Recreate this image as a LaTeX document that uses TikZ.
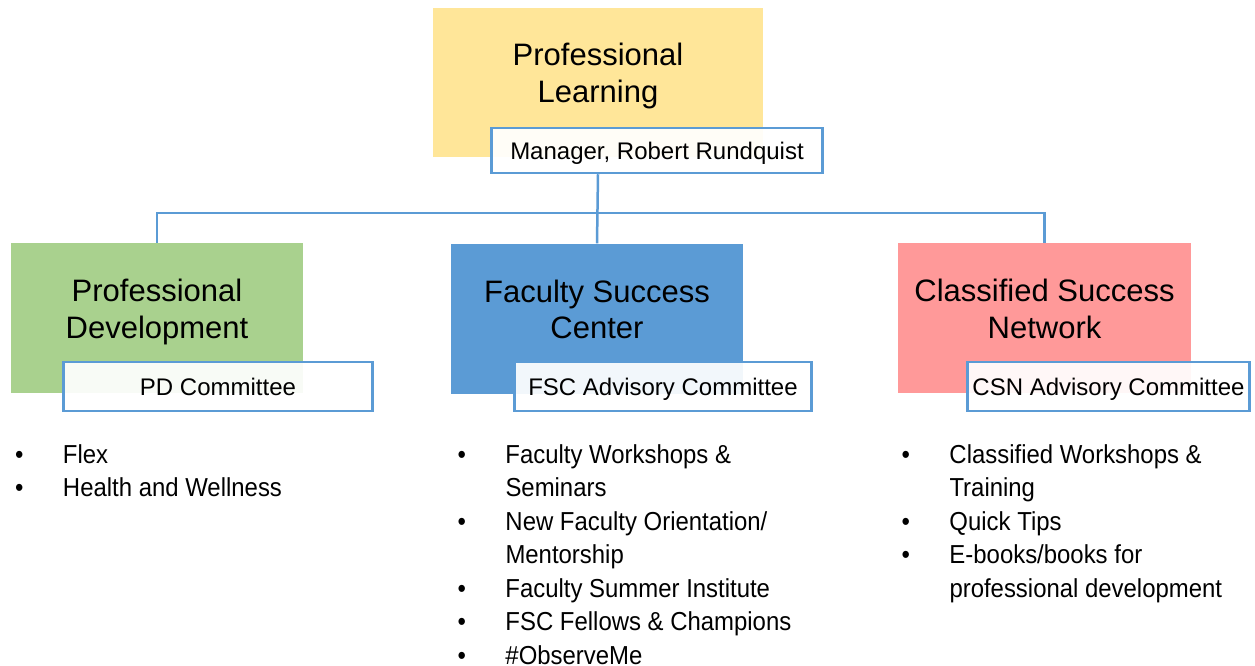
\documentclass[tikz,border=0pt]{standalone}
\usepackage{fontspec}
\setmainfont{Liberation Sans}
\newfontfamily\narrowfont[FakeStretch=0.92]{Liberation Sans}
\definecolor{lineblue}{HTML}{5B9BD5}
\definecolor{plyellow}{HTML}{FFE699}
\definecolor{pdgreen}{HTML}{A9D18E}
\definecolor{fscblue}{HTML}{5B9BD5}
\definecolor{csnpink}{HTML}{FF9999}
\newcommand\boxtitle[2]{\begin{tabular}[t]{@{}c@{}}#1\\#2\end{tabular}}
\begin{document}
\begin{tikzpicture}[x=1pt,y=-1pt,
  bigbox/.style={rectangle, inner sep=0pt, minimum width=292pt, minimum height=150pt,
    text height=0pt, text depth=33pt,
    font=\fontsize{31}{36.5}\selectfont},
  subbox/.style={rectangle, draw=lineblue, line width=2.5pt, fill=white, fill opacity=0.92,
    text opacity=1, minimum height=49pt, inner sep=0pt, text height=17.2pt, text depth=0pt,
    font=\fontsize{24}{28}\selectfont},
  conn/.style={draw=lineblue, line width=2.5pt},
  itemlist/.style={anchor=base west, inner sep=0pt, font=\narrowfont\fontsize{26}{33.5}\selectfont}]
\useasboundingbox (0,0) rectangle (1255,666);
\fill[white] (0,0) rectangle (1255,666);

% boxes
\node[bigbox, fill=plyellow, minimum width=330pt, minimum height=149pt] (pl) at (598,82.5) {\boxtitle{Professional}{Learning}};
\node[bigbox, fill=pdgreen] (pd) at (157,318) {\boxtitle{Professional}{Development}};
\node[bigbox, fill=fscblue] (fsc) at (597,318.5) {\boxtitle{Faculty Success}{Center}};
\node[bigbox, fill=csnpink, minimum width=293pt] (csn) at (1044.5,318) {\boxtitle{Classified Success}{Network}};

% connectors
\coordinate (bus) at (598,213);
\draw[conn] (pd.north) -- (pd.north |- bus) -- (csn.north |- bus) -- (csn.north);

% sub boxes
\node[subbox, minimum width=331pt, minimum height=45pt] (mgr) at (657,150.5) {Manager, Robert Rundquist};
\node[subbox, minimum width=309pt] (pdc) at (218,386.5) {PD Committee};
\node[subbox, minimum width=297pt] (fscc) at (663,386.5) {FSC Advisory Committee};
\node[subbox, minimum width=282pt] (csnc) at (1108.5,386.5) {CSN Advisory Committee};

\draw[conn] (pl.south |- mgr.south) -- (fsc.north);

% lists
\node[itemlist] (l1) at (14.8,463) {\begin{tabular}[t]{@{}p{48pt}@{}l@{}}
\textbullet & Flex\\
\textbullet & Health and Wellness
\end{tabular}};
\node[itemlist] (l2) at (457.3,463) {\begin{tabular}[t]{@{}p{48pt}@{}l@{}}
\textbullet & Faculty Workshops \&\\
 & Seminars\\
\textbullet & New Faculty Orientation/\\
 & Mentorship\\
\textbullet & Faculty Summer Institute\\
\textbullet & FSC Fellows \& Champions\\
\textbullet & \#ObserveMe
\end{tabular}};
\node[itemlist] (l3) at (901.3,463) {\begin{tabular}[t]{@{}p{48pt}@{}l@{}}
\textbullet & Classified Workshops \&\\
 & Training\\
\textbullet & Quick Tips\\
\textbullet & E-books/books for\\
 & professional development
\end{tabular}};
\end{tikzpicture}
\end{document}
